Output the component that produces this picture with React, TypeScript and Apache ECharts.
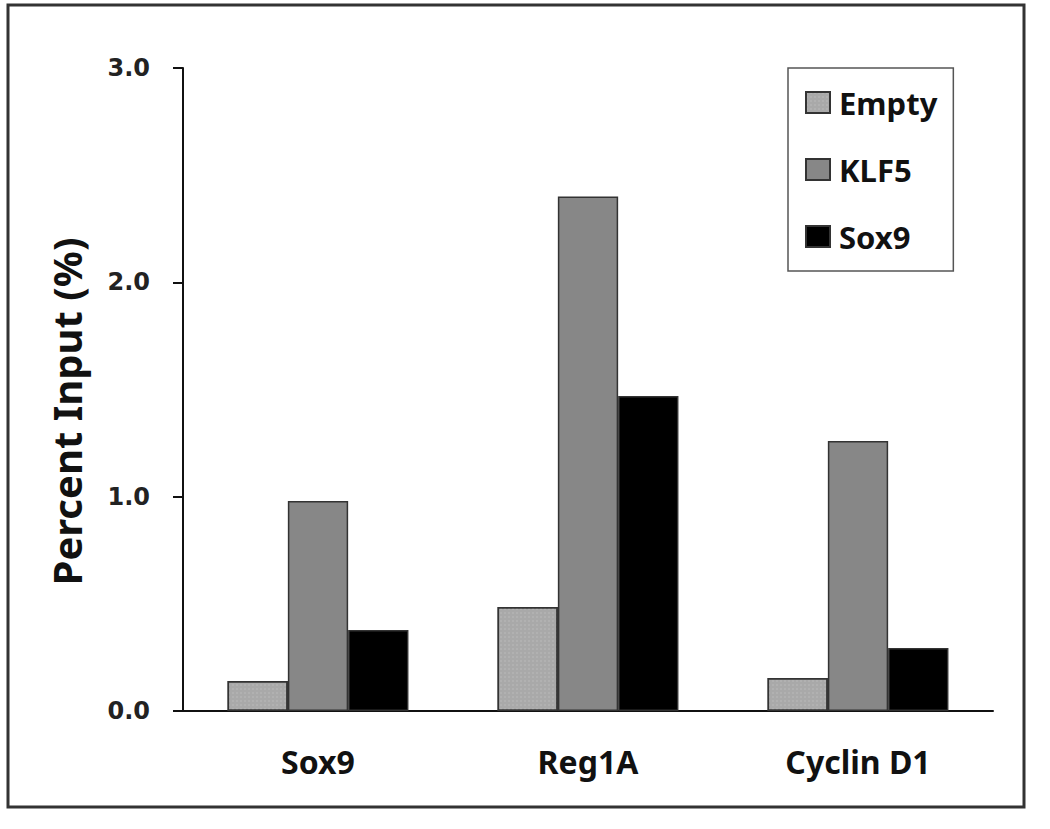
import React, { useEffect, useRef } from "react";
import * as echarts from "echarts";

const categories = ["Sox9", "Reg1A", "Cyclin D1"];
const seriesNames = ["Empty", "KLF5", "Sox9"];
const emptyValues = [0.14, 0.485, 0.154];
const klf5Values = [0.98, 2.4, 1.26];
const sox9Values = [0.378, 1.47, 0.294];
const yTicks = [0, 1, 2, 3];

const FONT = "'Noto Sans', Lato, sans-serif";
const TICK_FONT = "'DejaVu Sans', Verdana, sans-serif";

export default function App() {
  const ref = useRef<HTMLDivElement>(null);
  useEffect(() => {
    document.body.style.margin = "0";
    const chart = echarts.init(ref.current!, undefined, { renderer: "svg" });
    const colors = ["#a9a9a9", "#878787", "#000000"];
    const values = [emptyValues, klf5Values, sox9Values];
    chart.setOption({
      animation: false,
      backgroundColor: "#ffffff",
      textStyle: { fontFamily: FONT },
      grid: { left: 183, right: 57, top: 68, bottom: 118 },
      legend: {
        orient: "vertical",
        left: 788,
        top: 68,
        padding: [19, 16, 19, 17],
        itemGap: 36,
        itemWidth: 24,
        itemHeight: 21,
        borderColor: "#555",
        borderWidth: 1.5,
        icon: "rect",
        data: seriesNames,
        textStyle: { fontSize: 31, fontWeight: "bold", color: "#111", fontFamily: FONT, padding: [0, 0, 0, 4] },
      },
      xAxis: {
        type: "category",
        data: categories,
        axisLine: { lineStyle: { color: "#111", width: 2 } },
        axisTick: { show: false },
        axisLabel: { fontSize: 32, fontWeight: "bold", color: "#111", margin: 34, fontFamily: FONT },
      },
      yAxis: {
        type: "value",
        min: yTicks[0],
        max: yTicks[yTicks.length - 1],
        interval: 1,
        name: "Percent Input (%)",
        nameLocation: "middle",
        nameGap: 97,
        nameTextStyle: {
          fontSize: 40,
          fontWeight: "bold",
          color: "#111",
          fontFamily: FONT,
          padding: [0, 44, 0, 0],
        },
        splitLine: { show: false },
        axisLine: { show: true, lineStyle: { color: "#111", width: 2 } },
        axisTick: { show: true, inside: false, length: 10, lineStyle: { color: "#111", width: 2 } },
        axisLabel: {
          fontSize: 24,
          fontWeight: "bold",
          color: "#222",
          margin: 33,
          fontFamily: TICK_FONT,
          formatter: (v: number) => v.toFixed(1),
        },
      },
      series: seriesNames.map((name, i) => ({
        name,
        type: "bar",
        data: values[i],
        barGap: "0%",
        barCategoryGap: "33%",
        itemStyle: {
          color: colors[i],
          borderColor: "#333",
          borderWidth: 1.5,
          decal:
            i === 0
              ? { symbol: "rect", symbolSize: 0.5, dashArrayX: [2, 2], dashArrayY: [2, 2], color: "rgba(255,255,255,0.35)" }
              : undefined,
        },
      })),
      graphic: [
        {
          type: "rect",
          shape: { x: 8, y: 5, width: 1016, height: 802 },
          style: { fill: "none", stroke: "#333", lineWidth: 3 },
          silent: true,
        },
      ],
      aria: { enabled: false, decal: { show: true } },
    });
    return () => chart.dispose();
  }, []);
  return <div ref={ref} style={{ width: 1050, height: 829 }} />;
}
